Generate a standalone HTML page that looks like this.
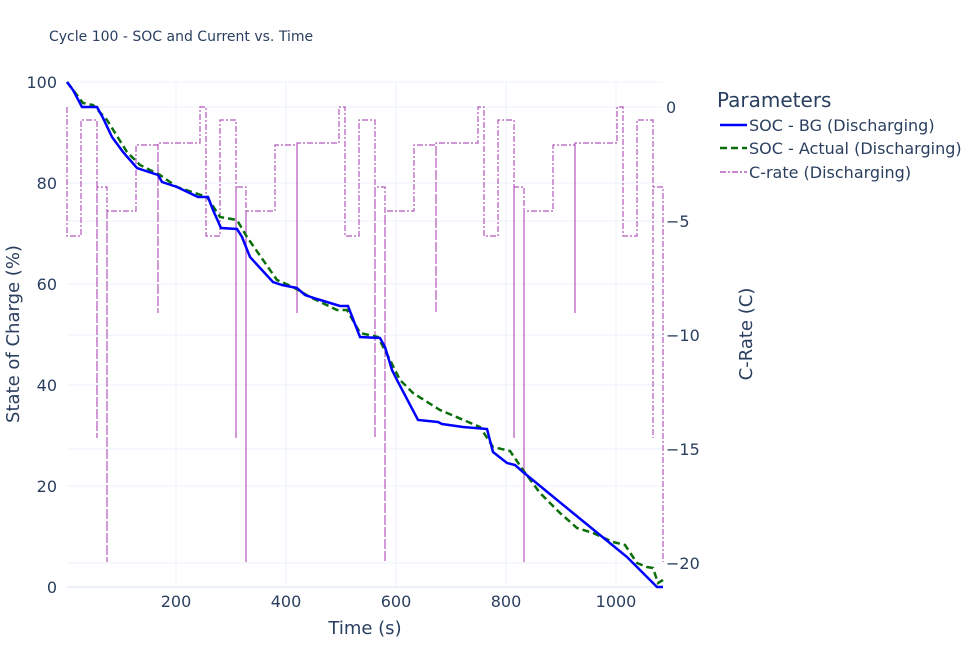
<!DOCTYPE html>
<html><head><meta charset="utf-8"><style>
body{margin:0;background:#fff;}
svg text{font-family:"DejaVu Sans","Liberation Sans",sans-serif;fill:#2a3f5f;}
</style></head><body>
<svg width="979" height="653" xmlns="http://www.w3.org/2000/svg">
<rect width="979" height="653" fill="#fff"/>
<text x="49" y="41" font-size="14">Cycle 100 - SOC and Current vs. Time</text>
<g stroke="#ebf0f8" stroke-width="1">
<line x1="67" x2="663" y1="82" y2="82"/><line x1="67" x2="663" y1="183" y2="183"/>
<line x1="67" x2="663" y1="284" y2="284"/><line x1="67" x2="663" y1="385" y2="385"/>
<line x1="67" x2="663" y1="486" y2="486"/>
<line x1="67" x2="663" y1="107" y2="107"/><line x1="67" x2="663" y1="221" y2="221"/>
<line x1="67" x2="663" y1="335" y2="335"/><line x1="67" x2="663" y1="449" y2="449"/>
<line x1="67" x2="663" y1="563" y2="563"/>
<line x1="176" x2="176" y1="82" y2="587"/><line x1="286" x2="286" y1="82" y2="587"/>
<line x1="396" x2="396" y1="82" y2="587"/><line x1="506" x2="506" y1="82" y2="587"/>
<line x1="616" x2="616" y1="82" y2="587"/>
</g>
<line x1="67" x2="663" y1="587" y2="587" stroke="#ebf0f8" stroke-width="2"/>
<path d="M67,107 V236 H81 V120 H97 V438 V187 H107 V562 V211 H136 V145 H158 V313 V143 H200 V107 H206 V236 H220 V120 H236 V438 V187 H246 V562 V211 H275 V145 H297 V313 V143 H339 V107 H345 V236 H359 V120 H375 V438 V187 H385 V562 V211 H414 V145 H436 V313 V143 H478 V107 H484 V236 H498 V120 H514 V438 V187 H524 V562 V211 H553 V145 H575 V313 V143 H617 V107 H623 V236 H637 V120 H653 V438 V187 H663 V562" fill="none" stroke="#a63aae" stroke-opacity="0.85" stroke-width="1.2" stroke-dasharray="6,2,2,2"/>
<polyline fill="none" stroke="#0a6e0a" stroke-width="2.5" stroke-dasharray="7,4" points="67,82 83,103 93,105 107,120 127,152 140,165 160,175 177,187 207,197 220,217 237,220 247,237 277,280 293,287 310,297 337,310 347,310 360,333 378,337 390,360 400,380 413,393 440,410 480,427 493,447 510,451 523,470 540,493 560,513 577,528 593,533 613,542 625,545 637,563 647,567 653,568 658,583 663,580"/>
<polyline fill="none" stroke="#0000ff" stroke-width="2.5" points="67,82 73,90 82,107 97,107 103,118 112,137 123,152 137,168 158,175 162,182 177,187 198,197 208,197 213,210 221,228 237,229 242,237 250,257 273,282 282,285 297,288 305,295 317,299 340,306 348,306 360,337 380,338 385,347 392,370 397,380 418,420 438,422 442,424 463,427 487,429 493,452 507,463 515,465 523,472 573,513 600,535 627,557 657,587 663,587"/>
<g font-size="16" text-anchor="end">
<text x="57" y="88">100</text><text x="57" y="189">80</text><text x="57" y="290">60</text>
<text x="57" y="391">40</text><text x="57" y="492">20</text><text x="57" y="593">0</text>
</g>
<g font-size="16" text-anchor="start">
<text x="666" y="113">0</text><text x="666" y="227">−5</text><text x="666" y="341">−10</text>
<text x="666" y="455">−15</text><text x="666" y="569">−20</text>
</g>
<g font-size="16" text-anchor="middle">
<text x="176" y="607">200</text><text x="286" y="607">400</text><text x="396" y="607">600</text>
<text x="506" y="607">800</text><text x="616" y="607">1000</text>
</g>
<text x="365" y="634" font-size="18" text-anchor="middle">Time (s)</text>
<text transform="translate(19,334) rotate(-90)" font-size="18" text-anchor="middle">State of Charge (%)</text>
<text transform="translate(752,334) rotate(-90)" font-size="18" text-anchor="middle">C-Rate (C)</text>
<text x="717" y="107" font-size="20">Parameters</text>
<line x1="720" x2="747" y1="125" y2="125" stroke="#0000ff" stroke-width="2.5"/>
<text x="749" y="131" font-size="16">SOC - BG (Discharging)</text>
<line x1="720" x2="747" y1="148" y2="148" stroke="#0a6e0a" stroke-width="2.5" stroke-dasharray="7,4"/>
<text x="749" y="154" font-size="16">SOC - Actual (Discharging)</text>
<line x1="720" x2="747" y1="172" y2="172" stroke="#a63aae" stroke-width="1.2" stroke-dasharray="6,2,2,2"/>
<text x="749" y="178" font-size="16">C-rate (Discharging)</text>
</svg>
</body></html>
